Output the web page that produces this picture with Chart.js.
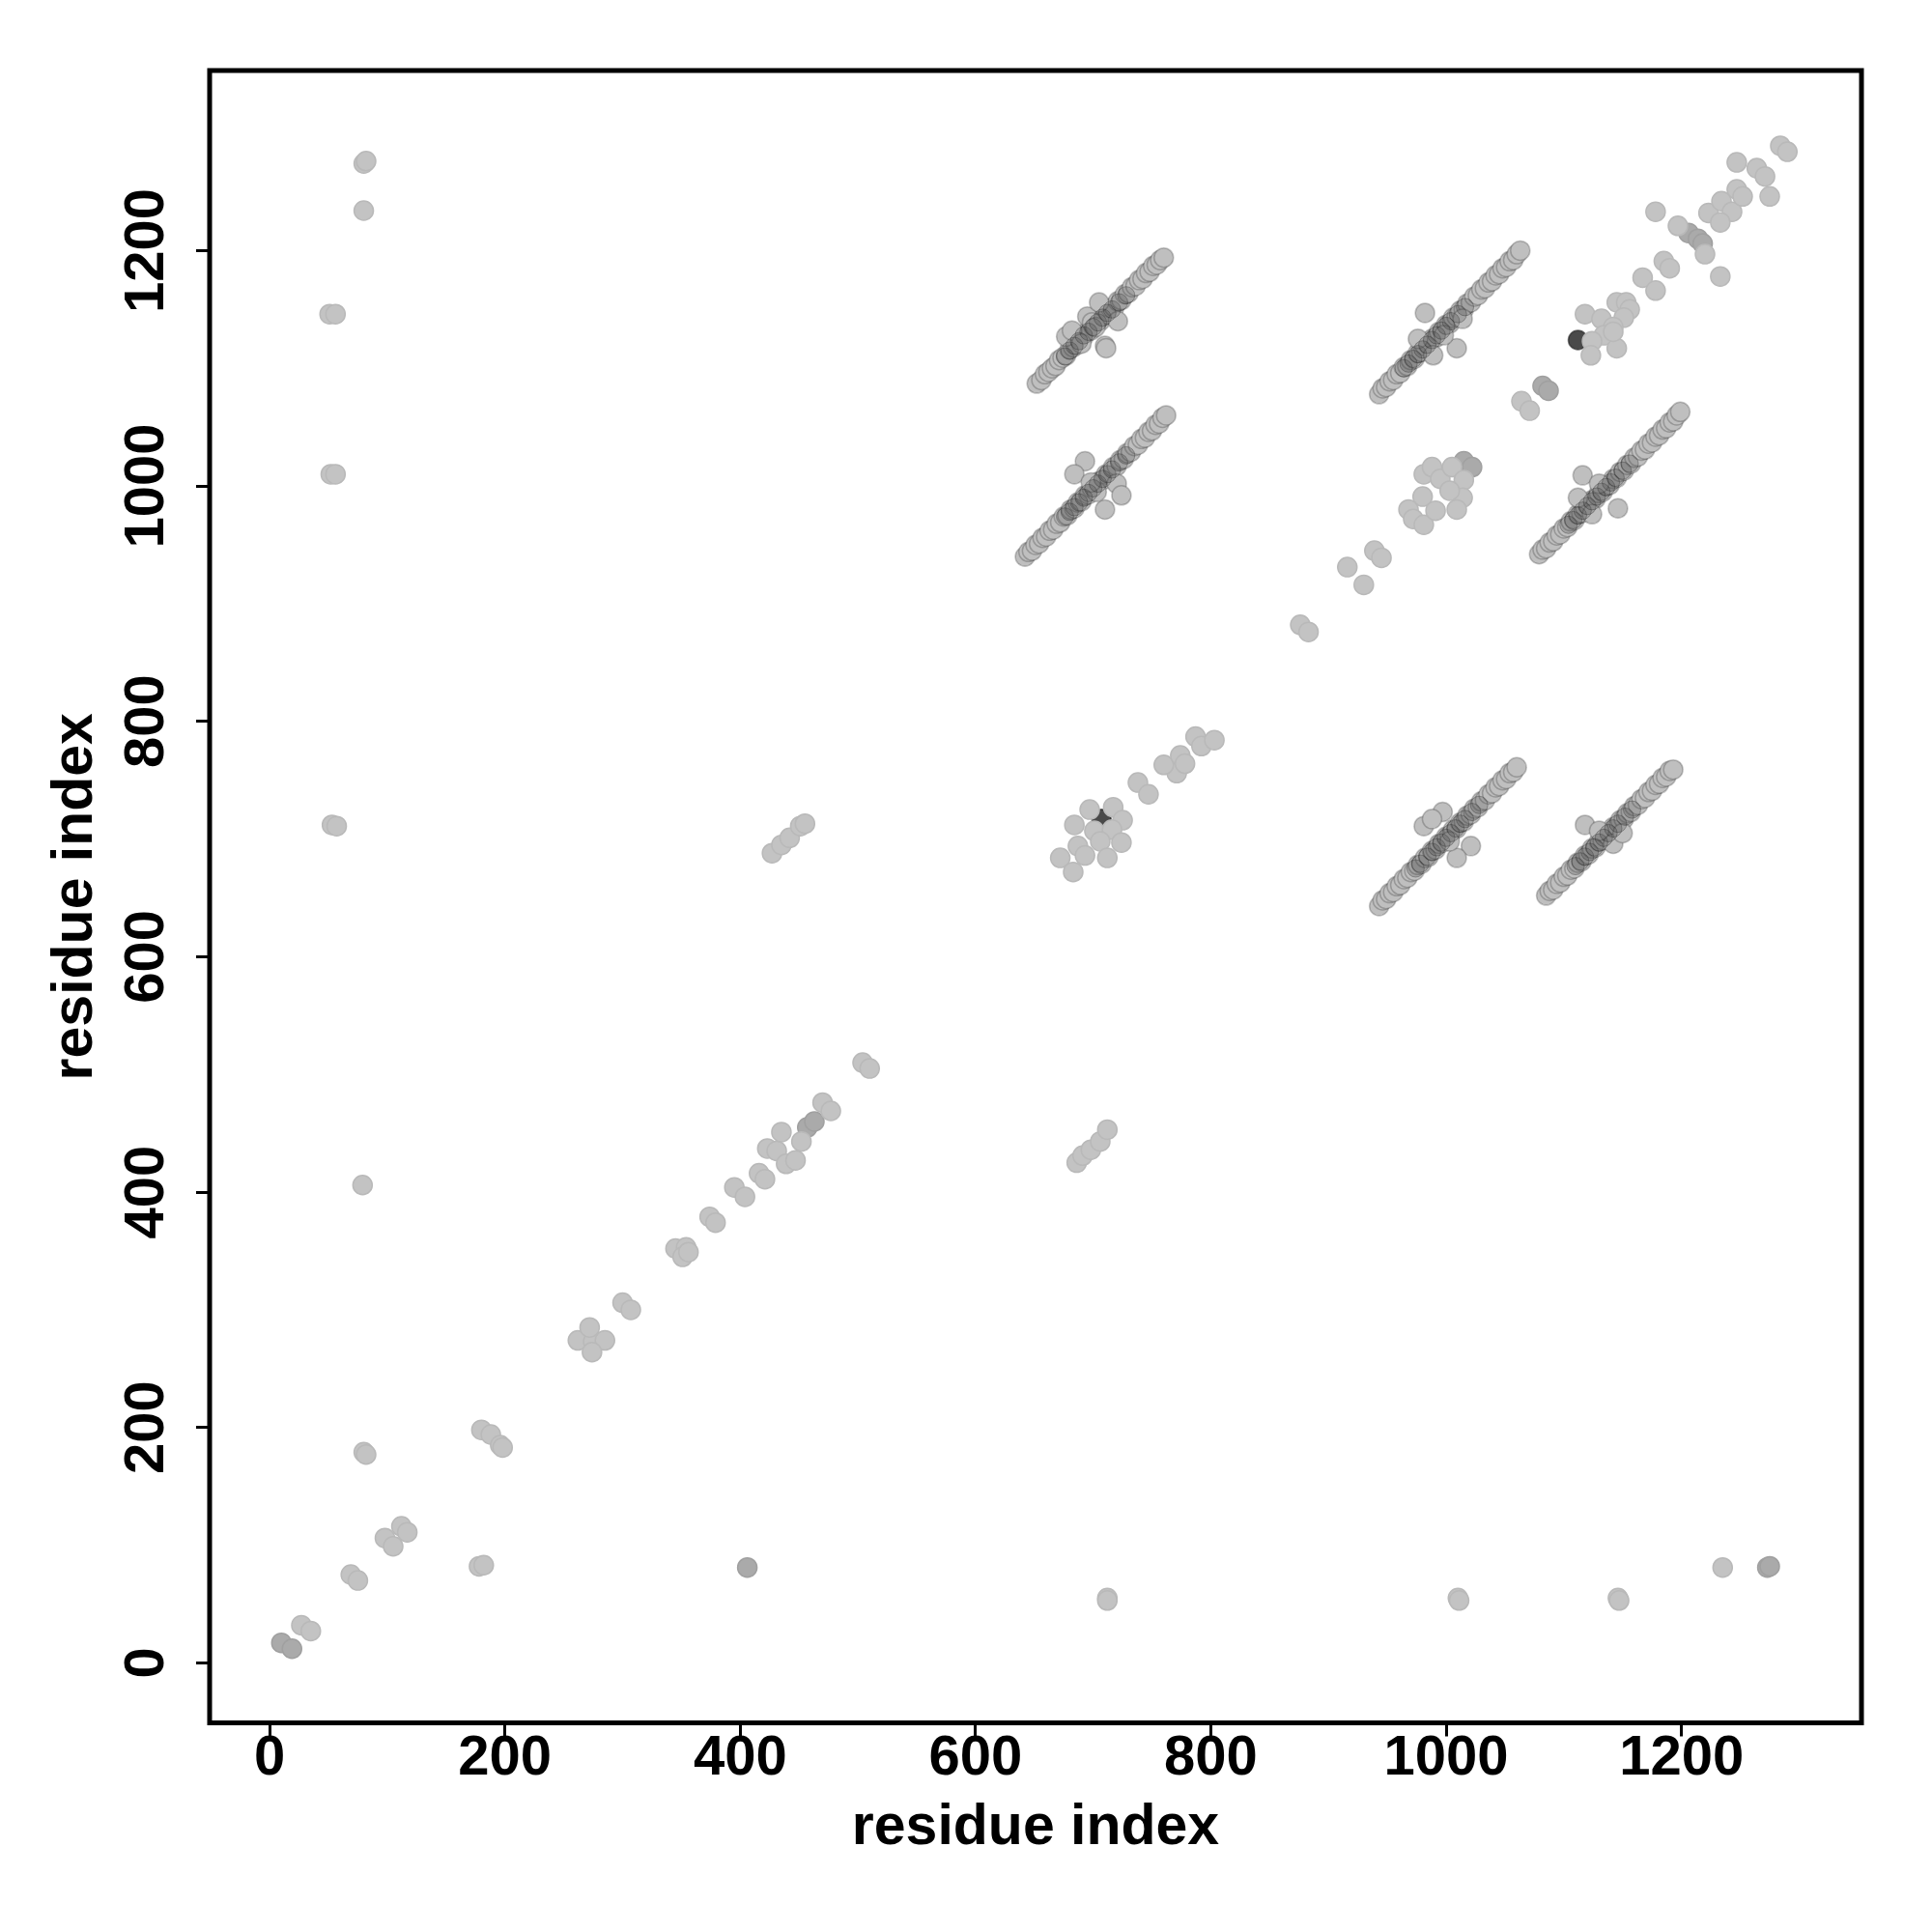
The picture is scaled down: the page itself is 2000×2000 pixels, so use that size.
<!DOCTYPE html>
<html>
<head>
<meta charset="utf-8">
<script src="https://cdn.jsdelivr.net/npm/chart.js@4.4.0/dist/chart.umd.min.js"></script>
<style>
  body { margin: 0; background: #fff; }
</style>
</head>
<body>
<canvas id="contactChart" width="2000" height="2000"></canvas>
<script>
// --- data (residue index pairs) ---
const tickValues = [0, 200, 400, 600, 800, 1000, 1200];
const axisTitle = 'residue index';

// scattered single contacts, light gray
const lightPoints = [
  [27,32],[35,27],[69,75],[75,70],[98,106],[105,99],[112,116],[117,111],
  [80,179],[82,177],[180,198],[188,194],[196,185],[198,183],
  [178,82],[182,83],[79,406],[53,712],[57,711],[52,1010],[56,1010],[51,1146],[56,1146],
  [80,1234],[80,1274],[82,1276],
  [712,55],[712,53],[1010,55],[1011,53],[1146,55],[1147,53],[1235,81],
  [262,274],[275,273],[272,285],[285,274],[274,264],
  [300,306],[307,300],[345,352],[354,353],[351,345],[356,349],[374,379],[379,374],
  [395,404],[404,396],[416,416],[421,411],
  [423,437],[431,435],[435,451],[439,424],[447,427],[452,443],[470,476],[477,469],
  [504,510],[510,505],
  [427,688],[435,695],[442,701],[451,711],[455,713],
  [686,425],[691,431],[698,436],[706,443],[712,453],
  [697,725],[717,727],[725,716],[684,712],[701,707],[716,708],[724,697],[706,698],
  [687,694],[693,686],[712,684],[672,684],[683,672],[738,748],[747,738],[771,756],
  [760,763],[774,771],[778,764],[787,787],[792,779],[803,784],
  [876,882],[883,876],[916,931],[930,916],[939,945],[945,939],
  [981,1010],[988,1016],[995,1006],[1005,1016],[1015,1005],[1014,990],[1009,980],
  [980,991],[968,980],[972,972],[981,967],[991,979],[1003,996],
  [1064,1072],[1071,1064],
  [1118,1146],[1132,1142],[1145,1156],[1153,1156],[1156,1150],[1151,1143],[1142,1135],
  [1134,1128],[1124,1123],[1123,1111],[1145,1117],[1142,1131],
  [1167,1177],[1178,1166],[1185,1191],[1190,1185],[1178,1233],[1197,1221],
  [1220,1197],[1233,1178],[1223,1232],[1234,1242],[1243,1233],[1233,1224],
  [1247,1252],[1252,1246],[1247,1275],[1264,1270],[1271,1263],[1275,1246],
  [1284,1289],[1290,1284]
];

// slightly darker single contacts
const midPoints = [
  [10,17],[19,12],[406,81],[1273,81],[1275,82],[457,455],[463,460],
  [1015,1021],[1022,1016],[1082,1085],[1087,1081],
  [1206,1215],[1214,1210],[1218,1206]
];

// darkest single contacts
const darkPoints = [
  [707,717],[1112,1124]
];

// dense diagonal stripes (helix-helix contacts)
const stripeA = [
  [652,1087],[656,1090],[659,1095],[662,1097],[665,1100],[668,1102],[671,1107],[674,1109],
  [677,1111],[680,1116],[683,1118],[686,1120],[689,1125],[692,1127],[695,1131],[698,1132],
  [700,1136],[703,1139],[706,1140],[709,1145],[712,1146],[715,1151],[718,1152],[721,1157],
  [724,1158],[727,1163],[730,1164],[733,1169],[736,1170],[739,1175],[742,1176],[745,1181],
  [748,1182],[751,1187],[754,1188],[757,1192],[760,1194],
  [677,1127],[682,1132],[695,1144],[705,1156],[710,1119],[711,1117],[721,1140],[690,1121],
  [699,1139],[702,1135]
];
const stripeB = [
  [642,940],[645,944],[648,945],[651,950],[654,951],[657,956],[660,957],[663,962],
  [666,963],[669,968],[672,969],[675,974],[678,975],[681,980],[684,981],[687,986],
  [690,987],[693,992],[696,993],[699,998],[702,999],[705,1004],[708,1005],[711,1010],
  [714,1011],[717,1016],[720,1017],[723,1022],[726,1023],[729,1028],[732,1029],[735,1034],
  [738,1035],[741,1040],[744,1041],[747,1046],[750,1047],[753,1052],[756,1053],[759,1058],
  [762,1060],
  [693,1021],[684,1010],[710,980],[720,1002],[724,992],[703,995],[698,1003]
];
const stripeC = [
  [943,1078],[946,1083],[949,1084],[952,1089],[955,1090],[958,1095],[961,1096],[964,1101],
  [967,1102],[970,1107],[973,1108],[976,1113],[979,1114],[982,1119],[985,1120],[988,1125],
  [991,1126],[994,1131],[997,1132],[1000,1137],[1003,1138],[1006,1143],[1009,1144],[1012,1149],
  [1015,1150],[1018,1155],[1021,1156],[1024,1161],[1027,1162],[1030,1167],[1033,1168],[1036,1173],
  [1039,1174],[1042,1179],[1045,1180],[1048,1185],[1051,1186],[1054,1191],[1057,1192],[1060,1197],
  [1063,1200],
  [982,1147],[1009,1117],[989,1111],[976,1125],[1014,1142],[998,1128]
];
const stripeD = [
  [1079,942],[1082,946],[1085,947],[1088,952],[1091,953],[1094,958],[1097,959],[1100,964],
  [1103,965],[1106,970],[1109,971],[1112,976],[1115,977],[1118,982],[1121,983],[1124,988],
  [1127,989],[1130,994],[1133,995],[1136,1000],[1139,1001],[1142,1006],[1145,1007],[1148,1012],
  [1151,1013],[1154,1018],[1157,1019],[1160,1024],[1163,1025],[1166,1030],[1169,1031],[1172,1036],
  [1175,1037],[1178,1042],[1181,1043],[1184,1048],[1187,1049],[1190,1054],[1193,1055],[1196,1060],
  [1199,1063],
  [1116,1009],[1146,981],[1124,976],[1112,990],[1130,1002]
];
const stripeE = [
  [943,643],[946,648],[949,649],[952,654],[955,655],[958,660],[961,661],[964,666],
  [967,667],[970,672],[973,673],[976,678],[979,679],[982,684],[985,685],[988,690],
  [991,691],[994,696],[997,697],[1000,702],[1003,703],[1006,708],[1009,709],[1012,714],
  [1015,715],[1018,720],[1021,721],[1024,726],[1027,727],[1030,732],[1033,733],[1036,738],
  [1039,739],[1042,744],[1045,745],[1048,750],[1051,751],[1054,756],[1057,757],[1060,761],
  [981,711],[1021,694],[1009,684],[997,723],[988,717],[1003,698]
];
const stripeF = [
  [1085,652],[1088,656],[1091,657],[1094,662],[1097,663],[1100,668],[1103,669],[1106,674],
  [1109,675],[1112,680],[1115,681],[1118,686],[1121,687],[1124,692],[1127,693],[1130,698],
  [1133,699],[1136,704],[1139,705],[1142,710],[1145,711],[1148,716],[1151,717],[1154,722],
  [1157,723],[1160,728],[1163,729],[1166,734],[1169,735],[1172,740],[1175,741],[1178,746],
  [1181,747],[1184,752],[1187,753],[1190,758],[1193,759],
  [1118,712],[1142,696],[1150,705],[1130,707]
];

// stronger contacts in the middle of each stripe (the dark cores)
const stripeCores = [
  [676,1110],[680,1115],[684,1119],[688,1123],[692,1128],[696,1131],[700,1135],[704,1139],[708,1143],[712,1147],[716,1150],[722,1156],[728,1162],
  [676,974],[680,978],[684,982],[688,986],[692,990],[696,994],[700,998],[704,1002],[708,1006],[712,1010],[716,1014],[722,1020],[728,1026],
  [964,1100],[968,1104],[972,1108],[976,1112],[980,1116],[984,1120],[988,1124],[992,1128],[996,1132],[1000,1136],[1004,1140],[1010,1146],[1016,1152],
  [1104,967],[1108,971],[1112,975],[1116,979],[1120,983],[1124,987],[1128,991],[1132,995],[1136,999],[1140,1003],[1144,1007],[1150,1013],[1156,1019],
  [974,675],[978,679],[984,685],[988,689],[992,693],[996,697],[1000,701],[1004,705],[1008,709],[1012,713],[1016,717],[1022,723],[1028,729],
  [1110,677],[1114,681],[1118,685],[1122,689],[1126,693],[1130,697],[1134,701],[1138,705],[1142,709],[1146,713],[1152,719],[1158,725]
];

const FONT = '"Liberation Sans", Arial, Helvetica, sans-serif';
const toXY = arr => arr.map(p => ({ x: p[0], y: p[1] }));

// frame round the plot area
const framePlugin = {
  id: 'frame',
  afterDraw(chart) {
    const { ctx, chartArea: a } = chart;
    ctx.save();
    ctx.strokeStyle = '#000';
    ctx.lineWidth = 5;
    ctx.strokeRect(a.left, a.top, a.right - a.left, a.bottom - a.top);
    ctx.restore();
  }
};

// "order" decides stacking: higher order is drawn first (underneath)
function dotSet(data, fill, border, order, radius, borderWidth) {
  return {
    data: toXY(data),
    backgroundColor: fill,
    borderColor: border,
    borderWidth: borderWidth || 1.5,
    order: order,
    pointRadius: radius || 10,
    pointHoverRadius: radius || 10
  };
}

const stripes = [].concat(stripeA, stripeB, stripeC, stripeD, stripeE, stripeF);
const plainLabel = v => String(v);

new Chart(document.getElementById('contactChart'), {
  type: 'scatter',
  data: {
    datasets: [
      dotSet(darkPoints, '#4a4a4a', 'rgba(30,30,30,0.6)', 5),
      dotSet(stripes, '#bfbfbf', 'rgba(60,60,60,0.3)', 4),
      dotSet(stripeCores, 'rgba(60,60,60,0.22)', 'rgba(20,20,20,0.3)', 3, 9, 1),
      dotSet(midPoints, '#aaaaaa', 'rgba(160,160,160,1)', 2),
      dotSet(lightPoints, '#c3c3c3', 'rgba(185,185,185,1)', 1)
    ]
  },
  options: {
    responsive: false,
    animation: false,
    layout: { padding: { left: 43.5, top: 73, right: 73, bottom: 72 } },
    plugins: { legend: { display: false }, tooltip: { enabled: false } },
    scales: {
      x: {
        type: 'linear',
        min: -51,
        max: 1353,
        afterBuildTicks: s => { s.ticks = tickValues.map(v => ({ value: v })); },
        afterFit: s => { s.height = 144.5; },
        border: { display: false },
        grid: { drawOnChartArea: false, drawTicks: true, tickLength: 14, tickWidth: 3, tickColor: '#000' },
        ticks: { color: '#000', padding: -11, maxRotation: 0, callback: plainLabel, font: { family: FONT, size: 58, weight: 'bold' } },
        title: { display: true, text: axisTitle, color: '#000', padding: 0, font: { family: FONT, size: 59, weight: 'bold' } }
      },
      y: {
        type: 'linear',
        min: -51,
        max: 1353,
        afterBuildTicks: s => { s.ticks = tickValues.map(v => ({ value: v })); },
        afterFit: s => { s.width = 173.5; },
        border: { display: false },
        grid: { drawOnChartArea: false, drawTicks: true, tickLength: 14, tickWidth: 3, tickColor: '#000' },
        ticks: { color: '#000', padding: -15, minRotation: 90, maxRotation: 90, crossAlign: 'center', callback: plainLabel, font: { family: FONT, size: 58, weight: 'bold' } },
        title: { display: true, text: axisTitle, color: '#000', padding: 0, font: { family: FONT, size: 59, weight: 'bold' } }
      }
    }
  },
  plugins: [framePlugin]
});
</script>
</body>
</html>
